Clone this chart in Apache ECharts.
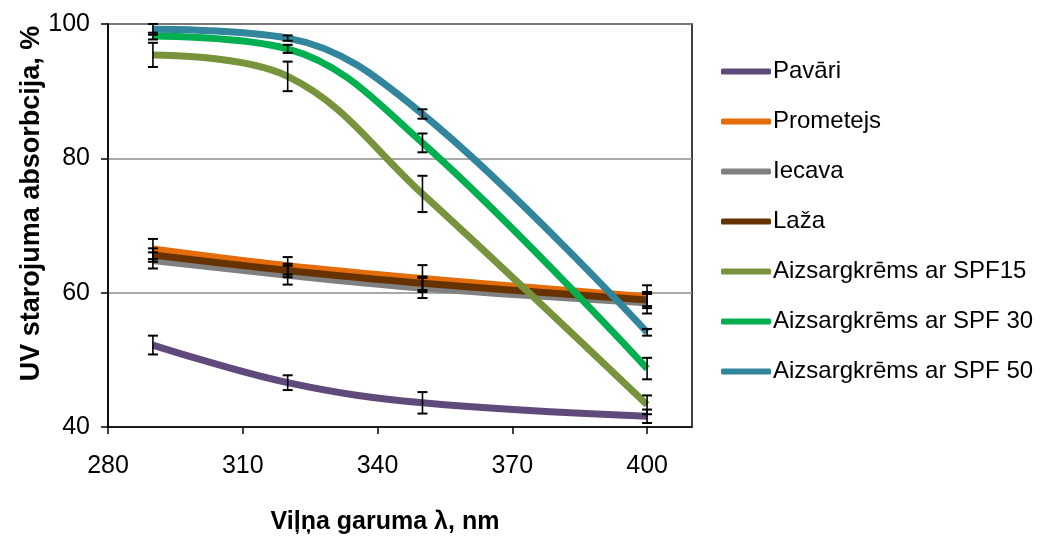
<!DOCTYPE html>
<html>
<head>
<meta charset="utf-8">
<script src="https://cdn.jsdelivr.net/npm/echarts@6/dist/echarts.min.js"></script>
<style>
  html, body { margin: 0; padding: 0; background: #fff; }
  #chart { width: 1040px; height: 540px; }
</style>
</head>
<body>
<div id="chart"></div>
<script>
// wavelength points (nm)
const wavelengths = [290, 320, 350, 400];

// absorbtion values, %
const pavari    = [52.2, 46.6, 43.6, 41.6];
const prometejs = [66.5, 64.0, 62.1, 59.4];
const iecava    = [64.8, 62.6, 60.7, 58.5];
const laza      = [65.6, 63.3, 61.4, 58.9];
const spf15     = [95.4, 92.2, 74.7, 43.3];
const spf30     = [98.2, 96.3, 82.3, 48.7];
const spf50     = [99.2, 97.9, 86.6, 54.1];

// error bar half-widths
const pavariErr    = [1.4, 1.1, 1.6, 1.0];
const prometejsErr = [1.5, 1.3, 2.0, 1.7];
const iecavaErr    = [1.2, 1.4, 1.5, 1.6];
const lazaErr      = [1.0, 1.0, 1.0, 0.9];
const spf15Err     = [1.8, 2.2, 2.7, 1.4];
const spf30Err     = [0.5, 0.6, 1.4, 1.6];
const spf50Err     = [0.8, 0.4, 0.7, 0.5];

const xTicks = [280, 310, 340, 370, 400];

const seriesDefs = [
  { name: 'Pavāri', data: pavari, err: pavariErr, color: '#604a7b' },
  { name: 'Prometejs', data: prometejs, err: prometejsErr, color: '#e46c0a' },
  { name: 'Iecava', data: iecava, err: iecavaErr, color: '#808080' },
  { name: 'Laža', data: laza, err: lazaErr, color: '#663300' },
  { name: 'Aizsargkrēms ar SPF15', data: spf15, err: spf15Err, color: '#77933c' },
  { name: 'Aizsargkrēms ar SPF 30', data: spf30, err: spf30Err, color: '#00b050' },
  { name: 'Aizsargkrēms ar SPF 50', data: spf50, err: spf50Err, color: '#31859c' }
];

const FONT = '"Liberation Sans", Arial, sans-serif';

const series = [];
seriesDefs.forEach(function (s) {
  series.push({
    name: s.name,
    type: 'line',
    smooth: 0.38,
    showSymbol: false,
    symbol: 'none',
    color: s.color,
    lineStyle: { width: 7, color: s.color },
    data: wavelengths.map(function (x, i) { return [x, s.data[i]]; }),
    z: 2
  });
});

// error bars for all series
const errData = [];
seriesDefs.forEach(function (s) {
  wavelengths.forEach(function (x, i) {
    errData.push([x, s.data[i] - s.err[i], s.data[i] + s.err[i]]);
  });
});

series.push({
  type: 'custom',
  name: 'err',
  z: 3,
  silent: true,
  renderItem: function (params, api) {
    const lo = api.coord([api.value(0), api.value(1)]);
    const hi = api.coord([api.value(0), api.value(2)]);
    const hw = 5;
    return {
      type: 'group',
      children: [
        { type: 'line', shape: { x1: lo[0], y1: lo[1], x2: hi[0], y2: hi[1] }, style: { stroke: '#000', lineWidth: 1.6 } },
        { type: 'line', shape: { x1: lo[0] - hw, y1: lo[1], x2: lo[0] + hw, y2: lo[1] }, style: { stroke: '#000', lineWidth: 2 } },
        { type: 'line', shape: { x1: hi[0] - hw, y1: hi[1], x2: hi[0] + hw, y2: hi[1] }, style: { stroke: '#000', lineWidth: 2 } }
      ]
    };
  },
  encode: { x: 0, y: [1, 2] },
  data: errData
});

const chart = echarts.init(document.getElementById('chart'));
chart.setOption({
  animation: false,
  backgroundColor: '#fff',
  grid: {
    left: 108, right: 348, top: 24, bottom: 113,
    show: true, borderColor: '#000', borderWidth: 1.5
  },
  legend: {
    orient: 'vertical',
    left: 716,
    top: 53,
    itemWidth: 50,
    itemHeight: 6,
    itemGap: 23,
    icon: 'roundRect',
    data: seriesDefs.map(function (s) { return s.name; }),
    textStyle: { fontFamily: FONT, fontSize: 24, color: '#000', lineHeight: 27, padding: [0, 0, 0, -3] }
  },
  xAxis: {
    type: 'value',
    min: 280,
    max: 410,
    interval: 30,
    name: 'Viļņa garuma λ, nm',
    nameLocation: 'middle',
    nameMoveOverlap: false,
    nameGap: 83,
    nameTextStyle: { fontFamily: FONT, fontSize: 25, fontWeight: 'bold', color: '#000', padding: [0, 30, 0, 0] },
    axisLine: { onZero: false, lineStyle: { color: '#000', width: 1.5 } },
    axisTick: { show: true, inside: false, length: 7, lineStyle: { color: '#000', width: 1.5 } },
    axisLabel: {
      margin: 27,
      fontFamily: FONT, fontSize: 25, color: '#000',
      showMaxLabel: false,
      formatter: function (v) { return xTicks.indexOf(v) >= 0 ? String(v) : ''; }
    },
    splitLine: { show: false }
  },
  yAxis: {
    type: 'value',
    min: 40,
    max: 100,
    interval: 20,
    name: 'UV starojuma absorbcija, %',
    nameLocation: 'middle',
    nameMoveOverlap: false,
    nameGap: 63,
    nameTextStyle: { fontFamily: FONT, fontSize: 27, fontWeight: 'bold', color: '#000', padding: [0, 0, 0, 44] },
    axisLine: { show: true, lineStyle: { color: '#000', width: 1.5 } },
    axisTick: { show: true, inside: false, length: 7, lineStyle: { color: '#000', width: 1.5 } },
    axisLabel: { margin: 18, fontFamily: FONT, fontSize: 25, color: '#000' },
    splitLine: { show: true, lineStyle: { color: '#8c8c8c', width: 1.5 } }
  },
  series: series
});
</script>
</body>
</html>
